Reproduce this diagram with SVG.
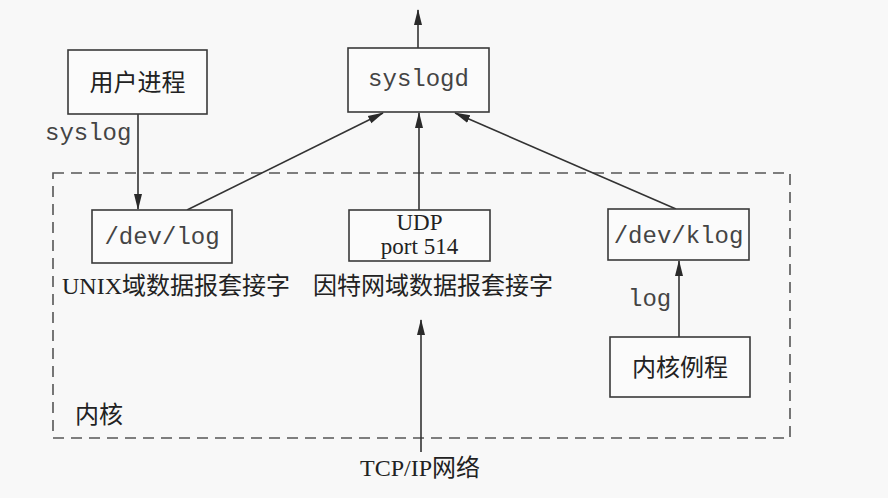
<svg xmlns="http://www.w3.org/2000/svg" width="888" height="498" viewBox="0 0 888 498">
<defs>
<marker id="ah" viewBox="0 0 16 10" refX="15" refY="5" markerWidth="16" markerHeight="10" markerUnits="userSpaceOnUse" orient="auto">
<path d="M0,1 L16,5 L0,9 Z" fill="#2a2a2a"/>
</marker>
<style>
.box{fill:#fbfbfb;stroke:#3a3a3a;stroke-width:1.6}
.edge{stroke:#333;stroke-width:1.6;fill:none;marker-end:url(#ah)}
.mono{font-family:"Liberation Mono","DejaVu Sans Mono",monospace;font-size:24px;fill:#444}
.cjk{font-family:"Liberation Serif","Noto Sans CJK SC",serif;font-size:24px;fill:#222}
.ser{font-family:"Liberation Serif",serif;font-size:23px;fill:#222}
</style>
</defs>
<rect width="888" height="498" fill="#f8f8f8"/>
<g id="kernel-region">
<rect x="53" y="173" width="737" height="265" fill="none" stroke="#555" stroke-width="1.6" stroke-dasharray="11,7"/>
<text class="cjk" x="75" y="423">内核</text>
</g>
<g id="connectors">
<line class="edge" x1="418" y1="48" x2="418" y2="10"/>
<line class="edge" x1="138" y1="114" x2="138" y2="209"/>
<line class="edge" x1="187" y1="210" x2="383" y2="113"/>
<line class="edge" x1="419" y1="210" x2="419" y2="113"/>
<line class="edge" x1="676" y1="209" x2="455" y2="113"/>
<line class="edge" x1="679" y1="337" x2="679" y2="261"/>
<line class="edge" x1="421" y1="452" x2="421" y2="320"/>
<text class="mono" x="45" y="140">syslog</text>
<text class="mono" x="628" y="306">log</text>
</g>
<g id="user-process">
<rect class="box" x="68" y="50" width="139" height="64"/>
<text class="cjk" x="137.5" y="91" text-anchor="middle">用户进程</text>
</g>
<g id="syslogd">
<rect class="box" x="348" y="48" width="141" height="64"/>
<text class="mono" x="418.5" y="86" text-anchor="middle">syslogd</text>
</g>
<g id="dev-log">
<rect class="box" x="92" y="210" width="140" height="53"/>
<text class="mono" x="162" y="244" text-anchor="middle">/dev/log</text>
<text class="cjk" x="62" y="294">UNIX域数据报套接字</text>
</g>
<g id="udp">
<rect class="box" x="349" y="210" width="141" height="51"/>
<text class="ser" x="419.5" y="230" text-anchor="middle">UDP</text>
<text class="ser" x="419.5" y="254" text-anchor="middle">port 514</text>
<text class="cjk" x="313" y="294">因特网域数据报套接字</text>
</g>
<g id="dev-klog">
<rect class="box" x="608" y="209" width="141" height="51"/>
<text class="mono" x="678.5" y="243" text-anchor="middle">/dev/klog</text>
</g>
<g id="kernel-routine">
<rect class="box" x="610" y="337" width="140" height="60"/>
<text class="cjk" x="680" y="376" text-anchor="middle">内核例程</text>
</g>
<g id="tcpip">
<text class="cjk" x="360" y="476">TCP/IP网络</text>
</g>
</svg>
